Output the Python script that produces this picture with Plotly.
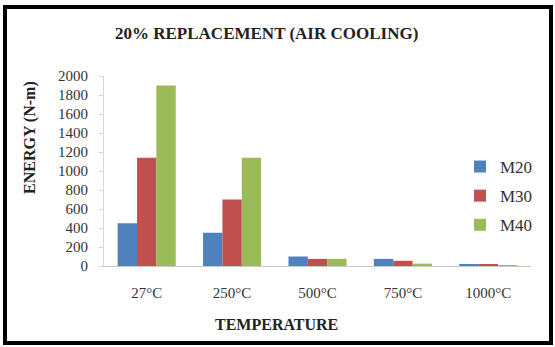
import plotly.graph_objects as go

# Impact energy (N-m) by exposure temperature, 20% replacement, air cooled
temperatures = ["27°C", "250°C", "500°C", "750°C", "1000°C"]
m20 = [450, 350, 100, 75, 15]
m30 = [1140, 700, 75, 55, 12]
m40 = [1900, 1140, 75, 25, 10]

series = [("M20", m20, "#4F81BD"), ("M30", m30, "#C0504D"), ("M40", m40, "#9BBB59")]

W, H = 555, 347
ML, MR, MT, MB = 104, 24, 76, 81
PW, PH = W - ML - MR, H - MT - MB


def px_x(px):
    return (px - ML) / PW


def px_y(py):
    return (H - MB - py) / PH


SERIF = "'Liberation Serif', 'Times New Roman', serif"

fig = go.Figure()
for name, vals, color in series:
    fig.add_trace(go.Bar(
        x=temperatures, y=vals, name=name, legendgroup=name,
        marker=dict(color=color, line=dict(width=0)),
    ))

fig.update_layout(
    width=W, height=H,
    margin=dict(l=ML, r=MR, t=MT, b=MB),
    paper_bgcolor="white", plot_bgcolor="white",
    barmode="group", bargap=0.32, bargroupgap=0,
    font=dict(family=SERIF, size=14, color="#222222"),
    showlegend=True,
    legend=dict(
        x=px_x(460), y=px_y(149), xanchor="left", yanchor="top",
        traceorder="grouped", tracegroupgap=4,
        font=dict(family=SERIF, size=17, color="#333333"),
        itemwidth=30, bgcolor="rgba(0,0,0,0)",
    ),
    xaxis=dict(
        showline=True, linecolor="#C8C8C8", linewidth=1,
        ticks="", showgrid=False,
        tickfont=dict(family=SERIF, size=15, color="#333333"),
        ticklabelstandoff=13,
    ),
    yaxis=dict(
        range=[0, 2000], dtick=200, showgrid=False, zeroline=False,
        showline=True, linecolor="#D8D8D8", linewidth=1,
        ticks="outside", ticklen=4, tickcolor="#D8D8D8",
        tickfont=dict(family=SERIF, size=15, color="#333333"),
        ticklabelstandoff=8,
    ),
)

# Chart title and axis titles
fig.add_annotation(
    text="<b>20% REPLACEMENT (AIR COOLING)</b>", xref="paper", yref="paper",
    x=px_x(266), y=px_y(34), showarrow=False, xanchor="center", yanchor="middle",
    font=dict(family=SERIF, size=17, color="#222222"),
)
fig.add_annotation(
    text="<b>TEMPERATURE</b>", xref="paper", yref="paper",
    x=px_x(276), y=px_y(324), showarrow=False, xanchor="center", yanchor="middle",
    font=dict(family=SERIF, size=16, color="#222222"),
)
fig.add_annotation(
    text="<b>ENERGY (N-m)</b>", xref="paper", yref="paper",
    x=px_x(30), y=px_y(138), showarrow=False, xanchor="center", yanchor="middle",
    textangle=-90, font=dict(family=SERIF, size=16, color="#222222"),
)

# Black frame around the whole chart
fig.add_shape(
    type="rect", xref="paper", yref="paper",
    x0=px_x(5), x1=px_x(551), y0=px_y(343), y1=px_y(7),
    line=dict(color="black", width=4), layer="above",
)

fig.write_html("out.html")
